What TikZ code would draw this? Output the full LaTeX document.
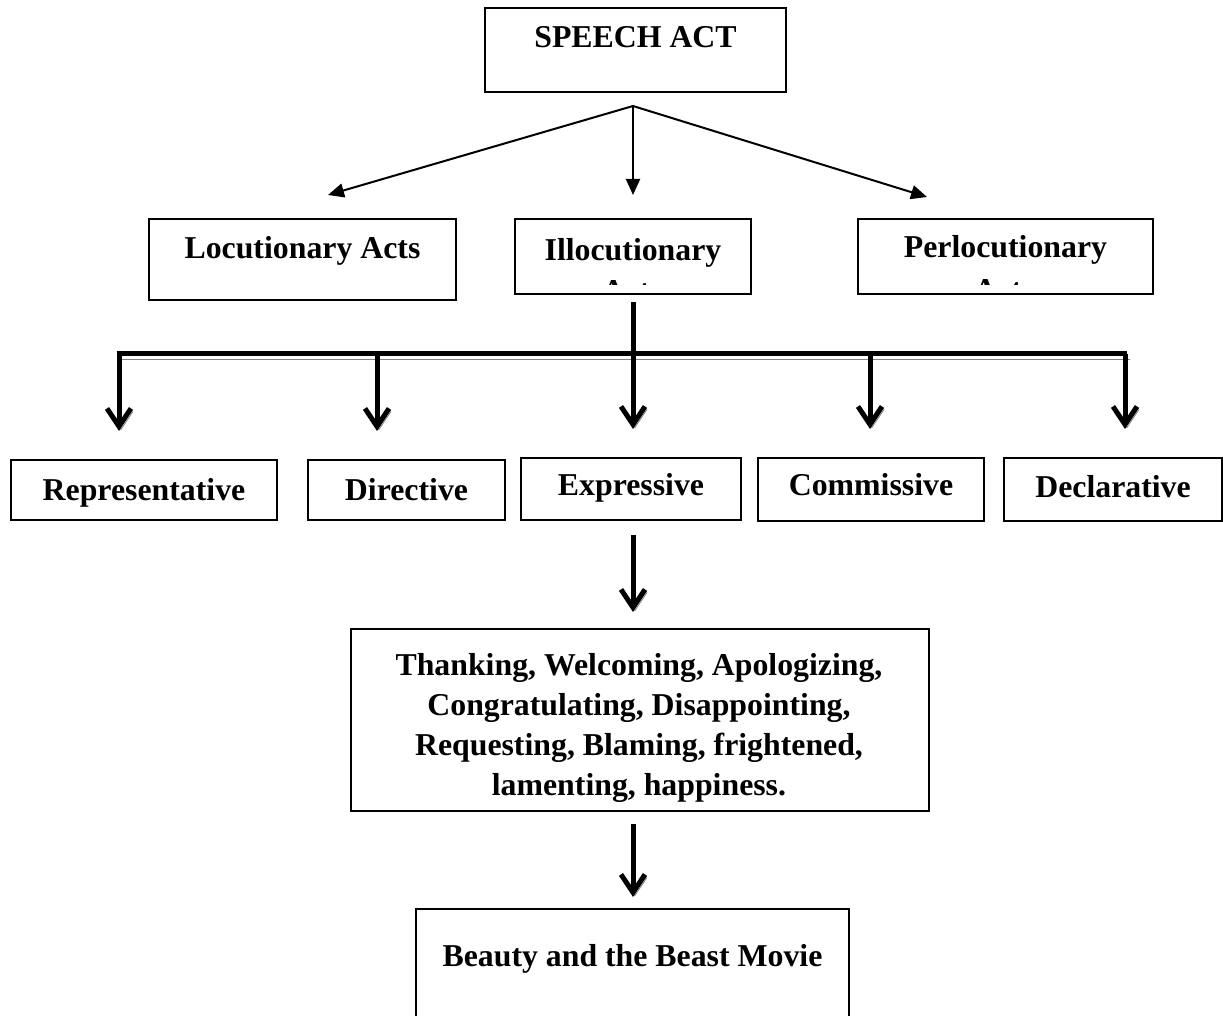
\documentclass[tikz,border=0pt]{standalone}
\usepackage{fontspec}
\setmainfont{Liberation Serif}
\usetikzlibrary{arrows.meta}

\tikzset{
  actbox/.style={draw, line width=1pt, inner xsep=0pt, inner ysep=0pt, anchor=north west,
    font=\fontsize{15.9}{20}\selectfont\bfseries},
  acttext/.style={inner sep=0pt, font=\fontsize{15.9}{20}\selectfont\bfseries},
  thinarrow/.style={line width=1pt, -{Triangle[length=8pt,width=7pt]}},
  shade/.style={preaction={draw=black!50, transform canvas={shift={(1pt,-1.5pt)}}}},
  thickarrow/.style={line width=2.5pt, -{Straight Barb[length=9pt,width=12pt]}, shade},
}

\begin{document}
\begin{tikzpicture}[x=0.5pt, y=-0.5pt]
\useasboundingbox (0,0) rectangle (1223,1016);
% top
\node[actbox, minimum width=150.5pt, text height=20pt, text depth=22pt] (speech) at (484,7) {SPEECH ACT};
\coordinate (apex) at (633,106);
\coordinate (locTip) at (328,195);
\coordinate (illTip) at (633,195);
\coordinate (perlTip) at (927,197);
% three acts
\node[actbox, minimum width=153.5pt, text height=20pt, text depth=20.5pt] (loc) at (148,218) {Locutionary Acts};
\node[actbox, minimum width=118pt, text height=21pt, text depth=16.5pt] (ill) at (514,218) {Illocutionary};
\node[actbox, minimum width=147.5pt, text height=19.5pt, text depth=18pt] (perl) at (857,218) {Perlocutionary};
\begin{scope}
  \clip ([yshift=5pt]ill.south west) rectangle (ill.north east);
  \node[acttext, anchor=base] (illacts) at (632,302) {Acts};
\end{scope}
\begin{scope}
  \clip ([yshift=5pt]perl.south west) rectangle (perl.north east);
  \node[acttext, anchor=base] (perlacts) at (1004,301) {Acts};
\end{scope}
\draw[thinarrow] (apex) -- (locTip);
\draw[thinarrow] (apex) -- (illTip);
\draw[thinarrow] (apex) -- (perlTip);
% kinds of illocutionary acts
\node[actbox, minimum width=133pt, text height=20.5pt, text depth=9.5pt] (rep) at (10,459) {Representative};
\node[actbox, minimum width=98.5pt, text height=20.5pt, text depth=9.5pt] (dir) at (307,459) {Directive};
\node[actbox, minimum width=110pt, text height=19pt, text depth=12pt] (expr) at (520,457) {Expressive};
\node[actbox, minimum width=113pt, text height=19pt, text depth=12.5pt] (comm) at (757,457) {Commissive};
\node[actbox, minimum width=109pt, text height=20pt, text depth=11.5pt] (decl) at (1003,457) {Declarative};
\coordinate (barL) at (117,354);
\coordinate (barR) at (1127,354);
\draw[line width=2.5pt, shorten <=3.5pt] (ill.south) -- (ill.south |- barL);
\draw[line width=2.5pt, preaction={draw=black!50, transform canvas={shift={(1.25pt,-2.5pt)}}}] (barL) -- (barR);
\foreach \x/\n in {119/rep,377/dir,633/expr,870/comm,1125/decl}
  \draw[thickarrow, shorten >=14pt] (\x,354) -- (\x,354 |- \n.north);
% expressive
\node[actbox, minimum width=289pt, minimum height=91pt] (acts) at (350,628) {};
\node[acttext, align=center] (actslist) at (639,728)
  {Thanking, Welcoming, Apologizing,\\Congratulating, Disappointing,\\Requesting, Blaming, frightened,\\lamenting, happiness.};
\node[actbox, minimum width=216.5pt, text height=28.5pt, text depth=32.5pt] (movie) at (415,908) {Beauty and the Beast Movie};
\draw[thickarrow, shorten <=7pt, shorten >=8pt] (apex |- expr.south) -- (apex |- acts.north);
\draw[thickarrow, shorten <=6pt, shorten >=5.5pt] (apex |- acts.south) -- (apex |- movie.north);
\end{tikzpicture}
\end{document}
